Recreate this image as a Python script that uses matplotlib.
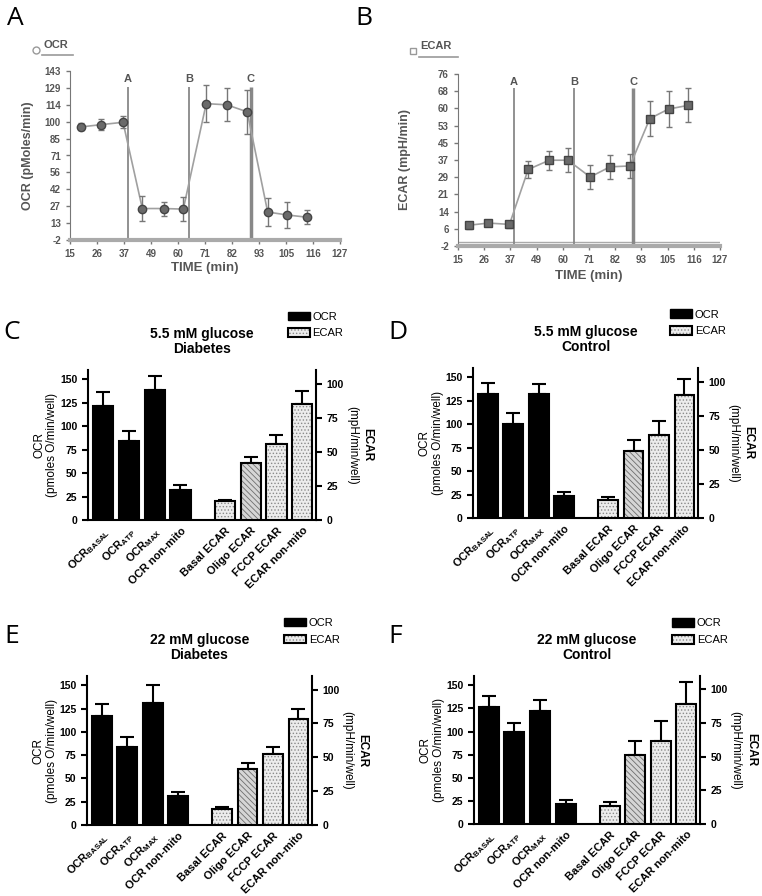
import numpy as np
import matplotlib
matplotlib.use("Agg")
import matplotlib.pyplot as plt
from matplotlib.patches import Patch

plt.rcParams['font.family'] = ['Liberation Sans', 'DejaVu Sans']
plt.rcParams['mathtext.fontset'] = 'custom'
plt.rcParams['mathtext.rm'] = 'Liberation Sans:bold'
plt.rcParams['mathtext.it'] = 'Liberation Sans:bold'
plt.rcParams['mathtext.bf'] = 'Liberation Sans:bold'
plt.rcParams['hatch.linewidth'] = 0.6

# ---- time course data (A, B) ----
time = [19.5, 28, 37, 45, 54, 62, 71.5, 80, 88.5, 97, 105, 113.5]
ocr_trace = [95, 97, 99, 25, 25, 24.5, 115, 114, 108, 22, 19.5, 17.5]
ocr_trace_err = [3, 4.5, 5, 11, 6, 10, 16, 14, 19, 12, 11, 6]
ecar_trace = [7.4, 8.4, 7.8, 32.7, 36.9, 36.9, 29.3, 33.9, 34.3, 55.8, 60.1, 61.8]
ecar_trace_err = [1.5, 1.5, 1.5, 4, 4.4, 5.4, 5.5, 5.3, 5.3, 8, 8, 7.7]
injections = [39, 64.5, 90]
injection_names = ['A', 'B', 'C']
time_ticks = ['15', '26', '37', '49', '60', '71', '82', '93', '105', '116', '127']
ocr_ticks = ['-2', '13', '27', '42', '56', '71', '85', '100', '114', '129', '143']
ecar_ticks = ['-2', '6', '14', '21', '29', '37', '45', '53', '60', '68', '76']

# ---- bar data (C-F) ----
bar_labels = ['OCR$_{BASAL}$', 'OCR$_{ATP}$', 'OCR$_{MAX}$', 'OCR non-mito',
              'Basal ECAR', 'Oligo ECAR', 'FCCP ECAR', 'ECAR non-mito']

ocr_c = [122, 84, 139, 32]
ocr_c_err = [15, 11, 15, 5]
ecar_c = [13.9, 41.5, 56, 85.4]
ecar_c_err = [1, 4.4, 6.6, 9.3]

ocr_d = [132, 100, 132, 24]
ocr_d_err = [12, 12, 11, 3.5]
ecar_d = [13.4, 49, 61, 90]
ecar_d_err = [2, 8.5, 10, 12]

ocr_e = [117, 84, 131.5, 31]
ocr_e_err = [12.5, 11, 19, 4.6]
ecar_e = [11.7, 41.5, 52.4, 78]
ecar_e_err = [1.7, 4.4, 5.4, 7.3]

ocr_f = [127, 99, 122.5, 22]
ocr_f_err = [11.5, 10, 12, 4.3]
ecar_f = [13.7, 51, 62, 89]
ecar_f_err = [3, 10.5, 14.2, 16.6]

W, H = 762, 896
fig = plt.figure(figsize=(W / 100, H / 100), dpi=100)


def px_axes(left, top, right, bottom):
    return fig.add_axes([left / W, 1 - bottom / H, (right - left) / W, (bottom - top) / H])


def trace_panel(ax, y, e, ticks, marker, name, ylabel, vtop, ltop, leg):
    tc = '#555555'
    ylo, yhi = float(ticks[0]), float(ticks[-1])
    ax.plot(time, y, color='#a0a0a0', lw=1.2, zorder=2)
    ax.errorbar(time, y, yerr=e, fmt='none', ecolor='#777777', elinewidth=1,
                capsize=2.5, capthick=1, zorder=3)
    ax.plot(time, y, ls='none', marker=marker, ms=6, mfc='#6a6a6a', mec='#444444',
            mew=1, zorder=4)
    ax.vlines(injections, ylo, vtop, colors='#888888', lw=[1.3, 1.3, 2.5], zorder=1)
    for xi, nm in zip(injections, injection_names):
        ax.text(xi, ltop, nm, ha='center', va='center', fontsize=8,
                fontweight='bold', color=tc)
    ax.set_xlim(15, 127)
    ax.set_ylim(ylo, yhi)
    ax.set_xticks(np.linspace(15, 127, len(time_ticks)))
    ax.set_xticklabels(time_ticks)
    ax.set_yticks(np.linspace(ylo, yhi, len(ticks)))
    ax.set_yticklabels(ticks)
    for s in ['top', 'right']:
        ax.spines[s].set_visible(False)
    ax.spines['left'].set_color('#777777')
    ax.spines['bottom'].set_color('#aaaaaa')
    ax.spines['bottom'].set_linewidth(3)
    ax.tick_params(direction='out', length=3, width=1, colors='#777777',
                   labelcolor=tc, labelsize=7)
    for lab in ax.get_xticklabels() + ax.get_yticklabels():
        lab.set_fontweight('bold')
    ax.text(leg[0], 0.5, ylabel, transform=ax.transAxes, rotation=90,
            ha='center', va='center', fontsize=9, fontweight='bold', color=tc)
    ax.text(0.5, leg[1], 'TIME (min)', transform=ax.transAxes,
            ha='center', va='center', fontsize=9.5, fontweight='bold', color=tc)
    # small legend above the axes
    mx, my, tx, ty, ux0, ux1, uy = leg[2]
    ax.plot([mx], [my], marker=marker, ms=5, mfc='white', mec='#999999',
            transform=ax.transAxes, clip_on=False)
    ax.text(tx, ty, name, transform=ax.transAxes, ha='left', va='center',
            fontsize=8, fontweight='bold', color=tc)
    ax.plot([ux0, ux1], [uy, uy], color='#999999', lw=1.2,
            transform=ax.transAxes, clip_on=False)


axA = px_axes(70, 71, 340, 240)
trace_panel(axA, ocr_trace, ocr_trace_err, ocr_ticks, 'o', 'OCR',
            'OCR (pMoles/min)', 129.5, 136.5,
            (-0.156, -0.166, (-0.126, 1.124, -0.1, 1.154, -0.104, 0.011, 1.095)))

axB = px_axes(458, 74, 720, 246)
trace_panel(axB, ecar_trace, ecar_trace_err, ecar_ticks, 's', 'ECAR',
            'ECAR (mpH/min)', 69.5, 72.5,
            (-0.202, -0.174, (-0.172, 1.134, -0.145, 1.163, -0.148, 0.0, 1.1)))
axB.axhline(0, color='#aaaaaa', lw=1, zorder=0)

ocr_x = np.array([0, 1, 2, 3])
ecar_x = np.array([4.72, 5.72, 6.72, 7.72])
bw = 0.78
dot_style = ('#ececec', '.....', '#8a8a8a')
oligo_style = ('#d6d6d6', '\\\\\\\\\\\\', '#6e6e6e')


def bar_panel(ax, ocr, ocr_err, ecar, ecar_err, title):
    ax2 = ax.twinx()
    ax.bar(ocr_x, ocr, bw, color='black', edgecolor='black', lw=1.5, zorder=3)
    ax.errorbar(ocr_x, ocr, yerr=[np.zeros(len(ocr)), ocr_err], fmt='none',
                ecolor='black', elinewidth=1.5, capsize=5, capthick=1.5, zorder=2)
    for i, (xi, h) in enumerate(zip(ecar_x, ecar)):
        face, hatch, hc = oligo_style if i == 1 else dot_style
        ax2.bar(xi, h, bw, color=face, edgecolor=hc, hatch=hatch, lw=0, zorder=3)
        ax2.bar(xi, h, bw, fill=False, edgecolor='black', lw=1.5, zorder=4)
    ax2.errorbar(ecar_x, ecar, yerr=[np.zeros(len(ecar)), ecar_err], fmt='none',
                 ecolor='black', elinewidth=1.5, capsize=5, capthick=1.5, zorder=2)
    ax.set_xlim(-0.58, 8.25)
    ax.set_ylim(0, 160)
    ax2.set_ylim(0, 110)
    ax.set_yticks([0, 25, 50, 75, 100, 125, 150])
    ax2.set_yticks([0, 25, 50, 75, 100])
    ax.set_xticks(np.concatenate([ocr_x, ecar_x]))
    ax.set_xticklabels(bar_labels, rotation=45, ha='right', rotation_mode='anchor',
                       fontsize=8, fontweight='bold')
    ax.tick_params(axis='x', length=0, pad=4)
    ax.tick_params(axis='y', direction='out', length=4, width=1.5, labelsize=7.5)
    ax2.tick_params(axis='y', direction='out', length=4, width=1.5, labelsize=7.5)
    for lab in ax.get_yticklabels() + ax2.get_yticklabels():
        lab.set_fontweight('bold')
    ax.spines['top'].set_visible(False)
    ax.spines['right'].set_visible(False)
    ax2.spines['top'].set_visible(False)
    ax2.spines['left'].set_visible(False)
    ax2.spines['bottom'].set_visible(False)
    for s in ['left', 'bottom']:
        ax.spines[s].set_linewidth(1.5)
    ax2.spines['right'].set_linewidth(1.5)
    ax.set_title(title, fontsize=10, fontweight='bold', pad=12, linespacing=1.15)
    ax.text(-0.185, 0.5, 'OCR\n(pmoles O/min/well)', transform=ax.transAxes,
            rotation=90, ha='center', va='center', fontsize=8.5, linespacing=1.1)
    ax2.text(1.158, 0.5, '(mpH/min/well)', transform=ax2.transAxes,
             rotation=270, ha='center', va='center', fontsize=8.5)
    ax2.text(1.225, 0.5, 'ECAR', transform=ax2.transAxes,
             rotation=270, ha='center', va='center', fontsize=8.5, fontweight='bold')
    h_ocr = Patch(facecolor='black', edgecolor='black')
    h_ecar = (Patch(facecolor=dot_style[0], edgecolor=dot_style[2], hatch=dot_style[1], lw=0),
              Patch(fill=False, edgecolor='black', lw=1.5))
    ax2.legend([h_ocr, h_ecar], ['OCR', 'ECAR'], loc='upper left',
               bbox_to_anchor=(0.875, 1.39), frameon=False, fontsize=8,
               handlelength=2.0, handleheight=0.8, handletextpad=0.25,
               labelspacing=0.6, borderpad=0, borderaxespad=0)


axC = px_axes(88, 370, 316, 520)
bar_panel(axC, ocr_c, ocr_c_err, ecar_c, ecar_c_err, '5.5 mM glucose\nDiabetes')
axD = px_axes(473, 368, 698, 518)
bar_panel(axD, ocr_d, ocr_d_err, ecar_d, ecar_d_err, '5.5 mM glucose\nControl')
axE = px_axes(87, 676, 312, 825)
bar_panel(axE, ocr_e, ocr_e_err, ecar_e, ecar_e_err, '22 mM glucose\nDiabetes')
axF = px_axes(474, 676, 700, 824)
bar_panel(axF, ocr_f, ocr_f_err, ecar_f, ecar_f_err, '22 mM glucose\nControl')

# panel letters
letters = [('A', 7, 6), ('B', 355, 6), ('C', 3, 320), ('D', 388, 320),
           ('E', 4, 624), ('F', 388, 624)]
for lt, lx, ly in letters:
    fig.text(lx / W, 1 - ly / H, lt, ha='left', va='top', fontsize=19,
             family=['Open Sans', 'DejaVu Sans'])

fig.savefig('out.png', dpi=100)
